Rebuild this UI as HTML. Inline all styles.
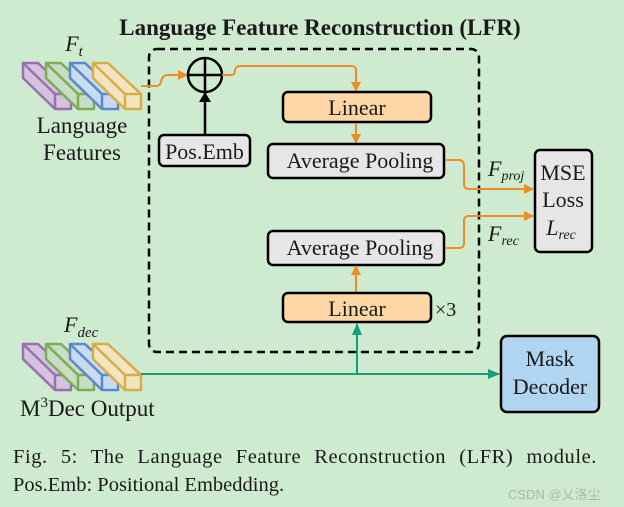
<!DOCTYPE html>
<html><head><meta charset="utf-8"><style>
html,body{margin:0;padding:0;background:#ceebd0;}
svg{display:block}
text{font-family:"Liberation Serif",serif;fill:#1a1a1a}
</style></head><body>
<svg width="624" height="507" viewBox="0 0 624 507" xmlns="http://www.w3.org/2000/svg">
<defs>
<marker id="ao" markerWidth="10" markerHeight="10" refX="9" refY="5" orient="auto" markerUnits="userSpaceOnUse"><path d="M0,0 L10,5 L0,10 z" fill="#f08c24"/></marker>
<marker id="ak" markerWidth="10" markerHeight="12" refX="9" refY="6" orient="auto" markerUnits="userSpaceOnUse"><path d="M0,0 L10,6 L0,12 z" fill="#000"/></marker>
<marker id="at" markerWidth="12" markerHeight="10" refX="11" refY="5" orient="auto" markerUnits="userSpaceOnUse"><path d="M0,0 L12,5 L0,10 z" fill="#1b9a7c"/></marker>
<g id="blk">
<polygon points="0,0 15,0 48,31 48,46 32,46 0,15" stroke-width="2.5" stroke-linejoin="round"/>
<line x1="32" y1="46" x2="32" y2="31" stroke-width="2.5"/>
<line x1="32" y1="31" x2="48" y2="31" stroke-width="2.5"/>
<line x1="32" y1="31" x2="0" y2="0" stroke-width="2.5"/>
</g>
</defs>
<rect width="624" height="507" fill="#ceebd0"/>
<text x="320" y="35" text-anchor="middle" font-weight="bold" font-size="23">Language Feature Reconstruction (LFR)</text>
<rect x="149" y="49" width="330" height="303" rx="8" fill="none" stroke="#000" stroke-width="2.5" stroke-dasharray="8,5"/>

<g transform="translate(23,63)">
<use href="#blk" fill="#d4c3dc" stroke="#9a6fb0"/>
<use href="#blk" x="23" fill="#c9dcc4" stroke="#7aae55"/>
<use href="#blk" x="47" fill="#c8dbf0" stroke="#5b88cc"/>
<use href="#blk" x="70" fill="#f2e4c0" stroke="#d9ad45"/>
</g>
<text x="74" y="51" text-anchor="middle" font-style="italic" font-size="22" fill="#444">F<tspan font-size="15" dy="5">t</tspan></text>
<text x="82" y="133" text-anchor="middle" font-size="23">Language</text>
<text x="82" y="160" text-anchor="middle" font-size="23">Features</text>

<g transform="translate(23,344)">
<use href="#blk" fill="#d4c3dc" stroke="#9a6fb0"/>
<use href="#blk" x="23" fill="#c9dcc4" stroke="#7aae55"/>
<use href="#blk" x="47" fill="#c8dbf0" stroke="#5b88cc"/>
<use href="#blk" x="70" fill="#f2e4c0" stroke="#d9ad45"/>
</g>
<text x="64" y="332" font-style="italic" font-size="22" fill="#444">F<tspan font-size="15" dy="5">dec</tspan></text>
<text x="20" y="416" font-size="23" fill="#333">M<tspan font-size="15" dy="-9">3</tspan><tspan dy="9">Dec Output</tspan></text>

<path d="M141,86 L156,86 Q160,86 161,82 Q162,75 168,75 L187,75" fill="none" stroke="#f08c24" stroke-width="2" marker-end="url(#ao)"/>
<circle cx="205" cy="75" r="17" fill="none" stroke="#000" stroke-width="2.5"/>
<line x1="188" y1="75" x2="222" y2="75" stroke="#000" stroke-width="2.5"/>
<line x1="205" y1="58" x2="205" y2="92" stroke="#000" stroke-width="2.5"/>
<path d="M222,75 L231,75 Q235,75 235,70 Q236,66 240,66 L352,66 Q356,66 356,70 L356,91" fill="none" stroke="#f08c24" stroke-width="2" marker-end="url(#ao)"/>

<rect x="159" y="135" width="91" height="31" rx="5" fill="#e6e6e6" stroke="#000" stroke-width="2.5"/>
<text x="204.5" y="159" text-anchor="middle" font-size="22">Pos.Emb</text>
<line x1="205" y1="135" x2="205" y2="93" stroke="#000" stroke-width="2.5" marker-end="url(#ak)"/>

<rect x="283" y="92" width="148" height="30" rx="5" fill="#fdd8a6" stroke="#000" stroke-width="2.5"/>
<text x="357" y="115" text-anchor="middle" font-size="22">Linear</text>
<line x1="356" y1="123" x2="356" y2="143" stroke="#f08c24" stroke-width="2" marker-end="url(#ao)"/>
<rect x="268" y="144" width="176" height="34" rx="5" fill="#e6e6e6" stroke="#000" stroke-width="2.5"/>
<text x="360" y="168" text-anchor="middle" font-size="22">Average Pooling</text>

<rect x="268" y="231" width="176" height="34" rx="5" fill="#e6e6e6" stroke="#000" stroke-width="2.5"/>
<text x="360" y="255" text-anchor="middle" font-size="22">Average Pooling</text>
<line x1="356" y1="293" x2="356" y2="266" stroke="#f08c24" stroke-width="2" marker-end="url(#ao)"/>
<rect x="283" y="293" width="148" height="29" rx="5" fill="#fdd8a6" stroke="#000" stroke-width="2.5"/>
<text x="357" y="316" text-anchor="middle" font-size="22">Linear</text>
<text x="435" y="316" font-size="20" fill="#333">×3</text>

<path d="M445,160 L459,160 Q464,160 464,166 L464,184 Q464,189 469,189 L533,189" fill="none" stroke="#f08c24" stroke-width="2" marker-end="url(#ao)"/>
<path d="M445,248 L459,248 Q464,248 464,243 L464,221 Q464,216 469,216 L533,216" fill="none" stroke="#f08c24" stroke-width="2" marker-end="url(#ao)"/>
<text x="488" y="176" font-style="italic" font-size="22">F<tspan font-size="14" dy="4">proj</tspan></text>
<text x="488" y="241" font-style="italic" font-size="22">F<tspan font-size="14" dy="4">rec</tspan></text>
<rect x="535" y="150" width="57" height="102" rx="5" fill="#e6e6e6" stroke="#000" stroke-width="2.5"/>
<text x="563" y="180" text-anchor="middle" font-size="22">MSE</text>
<text x="563" y="207" text-anchor="middle" font-size="22">Loss</text>
<text x="561" y="235" text-anchor="middle" font-style="italic" font-size="22">L<tspan font-size="14" dy="4">rec</tspan></text>

<line x1="141" y1="374" x2="499" y2="374" stroke="#1b9a7c" stroke-width="2" marker-end="url(#at)"/>
<line x1="357" y1="374" x2="357" y2="324" stroke="#1b9a7c" stroke-width="2" marker-end="url(#at)"/>
<rect x="501" y="336" width="98" height="76" rx="6" fill="#b1d5f0" stroke="#000" stroke-width="2.5"/>
<text x="550" y="366" text-anchor="middle" font-size="22">Mask</text>
<text x="550" y="394" text-anchor="middle" font-size="22">Decoder</text>

<text x="13" y="463" font-size="20.5" letter-spacing="0.55" word-spacing="7.5" fill="#000">Fig. 5: The Language Feature Reconstruction (LFR) module.</text>
<text x="13" y="491" font-size="20.5" fill="#000">Pos.Emb: Positional Embedding.</text>
<text x="508" y="499" font-size="13" style="font-family:'Liberation Sans','Noto Sans CJK SC',sans-serif;fill:#a8b8a8">CSDN @乂洛尘</text>
</svg>
</body></html>
